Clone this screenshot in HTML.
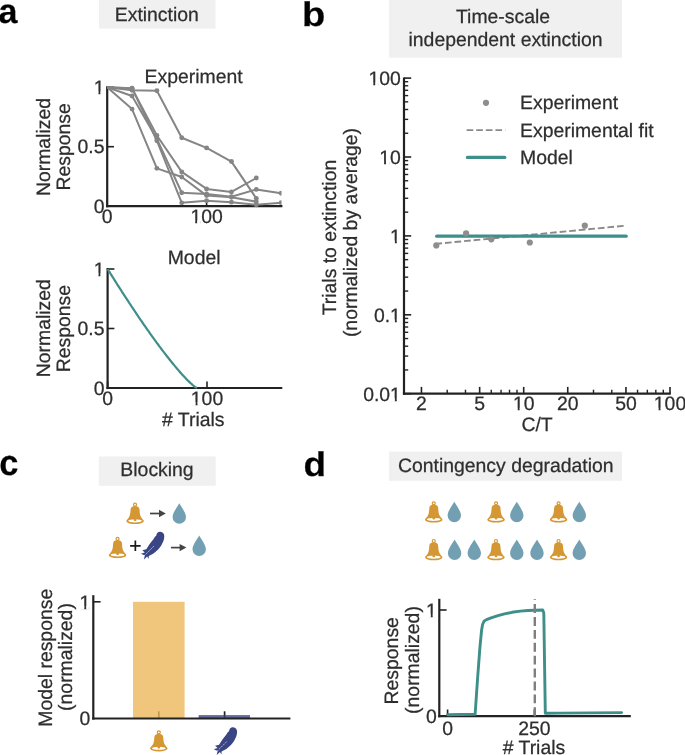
<!DOCTYPE html>
<html><head><meta charset="utf-8"><style>
html,body{margin:0;padding:0;background:#fff;}
body{width:685px;height:755px;overflow:hidden;}
svg{display:block;font-family:"Liberation Sans",sans-serif;will-change:transform;text-rendering:geometricPrecision;}
svg text{stroke:#2e2e2e;stroke-width:0.25px;}
</style></head><body>
<svg width="685" height="755" viewBox="0 0 685 755">
<text transform="translate(-1.40,22.76) scale(1.0343,1.0454)" x="0" y="0" font-size="33.0" font-weight="bold" fill="#000">a</text>
<text transform="translate(301.89,26.27) scale(1.1546,1.0357)" x="0" y="0" font-size="33.0" font-weight="bold" fill="#000">b</text>
<text transform="translate(-0.75,475.35) scale(1.0437,1.0841)" x="0" y="0" font-size="33.0" font-weight="bold" fill="#000">c</text>
<text transform="translate(303.39,476.47) scale(1.1185,1.0357)" x="0" y="0" font-size="33.0" font-weight="bold" fill="#000">d</text>
<rect x="99.00" y="-1.00" width="116.50" height="29.60" fill="#f0f0f0"/>
<text x="114.78" y="21.30" text-anchor="start" font-size="19.4" fill="#2e2e2e">Extinction</text>
<rect x="389.10" y="-1.00" width="232.90" height="58.70" fill="#f0f0f0"/>
<text x="455.98" y="22.60" text-anchor="start" font-size="19.4" fill="#2e2e2e">Time-scale</text>
<text x="408.51" y="45.60" text-anchor="start" font-size="19.4" fill="#2e2e2e">independent extinction</text>
<rect x="98.80" y="456.50" width="116.90" height="29.30" fill="#f0f0f0"/>
<text x="120.37" y="476.20" text-anchor="start" font-size="19.4" fill="#2e2e2e">Blocking</text>
<rect x="389.10" y="451.60" width="232.90" height="29.20" fill="#f0f0f0"/>
<text x="397.98" y="472.40" text-anchor="start" font-size="19.4" fill="#2e2e2e">Contingency degradation</text>
<line x1="107.20" y1="86.20" x2="107.20" y2="207.30" stroke="#222222" stroke-width="2.2"/>
<line x1="106.10" y1="206.20" x2="282.40" y2="206.20" stroke="#222222" stroke-width="2.2"/>
<line x1="107.20" y1="87.20" x2="114.00" y2="87.20" stroke="#222222" stroke-width="1.6"/>
<text x="104.50" y="93.97" text-anchor="end" font-size="19.4" fill="#2e2e2e">1</text>
<rect x="94.09" y="91.57" width="4.40" height="3.5" fill="#fff"/>
<rect x="100.40" y="91.57" width="3.58" height="3.5" fill="#fff"/>
<line x1="107.20" y1="146.70" x2="114.00" y2="146.70" stroke="#222222" stroke-width="1.6"/>
<text x="104.50" y="153.47" text-anchor="end" font-size="19.4" fill="#2e2e2e">0.5</text>
<line x1="107.20" y1="206.20" x2="114.00" y2="206.20" stroke="#222222" stroke-width="1.6"/>
<text x="104.50" y="212.97" text-anchor="end" font-size="19.4" fill="#2e2e2e">0</text>
<line x1="107.20" y1="206.20" x2="107.20" y2="199.70" stroke="#222222" stroke-width="1.6"/>
<text x="107.20" y="222.95" text-anchor="middle" font-size="19.4" fill="#2e2e2e">0</text>
<line x1="206.60" y1="206.20" x2="206.60" y2="199.70" stroke="#222222" stroke-width="1.6"/>
<text x="206.60" y="222.95" text-anchor="middle" font-size="19.4" fill="#2e2e2e">100</text>
<rect x="190.79" y="220.55" width="4.40" height="3.5" fill="#fff"/>
<rect x="197.11" y="220.55" width="3.58" height="3.5" fill="#fff"/>
<defs><clipPath id="ca"><rect x="103.2" y="80" width="178.3" height="140"/></clipPath></defs>
<g clip-path="url(#ca)">
<polyline points="107.20,87.20 132.05,90.29 156.90,90.77 181.75,137.77 206.60,147.89 231.45,161.57 256.30,198.35" fill="none" stroke="#858585" stroke-width="2" stroke-linejoin="round"/>
<circle cx="132.05" cy="90.29" r="2.45" fill="#858585"/>
<circle cx="156.90" cy="90.77" r="2.45" fill="#858585"/>
<circle cx="181.75" cy="137.77" r="2.45" fill="#858585"/>
<circle cx="206.60" cy="147.89" r="2.45" fill="#858585"/>
<circle cx="231.45" cy="161.57" r="2.45" fill="#858585"/>
<circle cx="256.30" cy="198.35" r="2.45" fill="#858585"/>
<polyline points="107.20,87.20 132.05,88.39 156.90,135.51 181.75,171.93 206.60,188.94 231.45,191.92 256.30,178.00" fill="none" stroke="#858585" stroke-width="2" stroke-linejoin="round"/>
<circle cx="132.05" cy="88.39" r="2.45" fill="#858585"/>
<circle cx="156.90" cy="135.51" r="2.45" fill="#858585"/>
<circle cx="181.75" cy="171.93" r="2.45" fill="#858585"/>
<circle cx="206.60" cy="188.94" r="2.45" fill="#858585"/>
<circle cx="231.45" cy="191.92" r="2.45" fill="#858585"/>
<circle cx="256.30" cy="178.00" r="2.45" fill="#858585"/>
<polyline points="107.20,87.20 132.05,96.01 156.90,138.96 181.75,192.75 206.60,193.94 231.45,196.68 256.30,189.42 281.15,193.23" fill="none" stroke="#858585" stroke-width="2" stroke-linejoin="round"/>
<circle cx="132.05" cy="96.01" r="2.45" fill="#858585"/>
<circle cx="156.90" cy="138.96" r="2.45" fill="#858585"/>
<circle cx="181.75" cy="192.75" r="2.45" fill="#858585"/>
<circle cx="206.60" cy="193.94" r="2.45" fill="#858585"/>
<circle cx="231.45" cy="196.68" r="2.45" fill="#858585"/>
<circle cx="256.30" cy="189.42" r="2.45" fill="#858585"/>
<circle cx="281.15" cy="193.23" r="2.45" fill="#858585"/>
<polyline points="107.20,87.20 132.05,109.10 156.90,168.36 181.75,177.04 206.60,195.61 231.45,197.27 256.30,201.68" fill="none" stroke="#858585" stroke-width="2" stroke-linejoin="round"/>
<circle cx="132.05" cy="109.10" r="2.45" fill="#858585"/>
<circle cx="156.90" cy="168.36" r="2.45" fill="#858585"/>
<circle cx="181.75" cy="177.04" r="2.45" fill="#858585"/>
<circle cx="206.60" cy="195.61" r="2.45" fill="#858585"/>
<circle cx="231.45" cy="197.27" r="2.45" fill="#858585"/>
<circle cx="256.30" cy="201.68" r="2.45" fill="#858585"/>
<polyline points="107.20,87.20 132.05,88.15 156.90,140.75 181.75,202.87 206.60,200.73 231.45,202.15 256.30,204.77 281.15,202.63" fill="none" stroke="#858585" stroke-width="2" stroke-linejoin="round"/>
<circle cx="132.05" cy="88.15" r="2.45" fill="#858585"/>
<circle cx="156.90" cy="140.75" r="2.45" fill="#858585"/>
<circle cx="181.75" cy="202.87" r="2.45" fill="#858585"/>
<circle cx="206.60" cy="200.73" r="2.45" fill="#858585"/>
<circle cx="231.45" cy="202.15" r="2.45" fill="#858585"/>
<circle cx="256.30" cy="204.77" r="2.45" fill="#858585"/>
<circle cx="281.15" cy="202.63" r="2.45" fill="#858585"/>
</g>
<text x="144.62" y="83.10" text-anchor="start" font-size="19.4" fill="#2e2e2e">Experiment</text>
<text transform="translate(50.30,146.85) rotate(-90)" x="-49.22" y="0" font-size="19.4" fill="#2e2e2e">Normalized</text>
<text transform="translate(70.40,146.50) rotate(-90)" x="-44.04" y="0" font-size="19.4" fill="#2e2e2e">Response</text>
<line x1="107.60" y1="268.00" x2="107.60" y2="389.10" stroke="#222222" stroke-width="2.2"/>
<line x1="106.50" y1="388.00" x2="282.30" y2="388.00" stroke="#222222" stroke-width="2.2"/>
<line x1="107.60" y1="269.00" x2="114.40" y2="269.00" stroke="#222222" stroke-width="1.6"/>
<text x="104.50" y="275.77" text-anchor="end" font-size="19.4" fill="#2e2e2e">1</text>
<rect x="94.09" y="273.37" width="4.40" height="3.5" fill="#fff"/>
<rect x="100.40" y="273.37" width="3.58" height="3.5" fill="#fff"/>
<line x1="107.60" y1="328.50" x2="114.40" y2="328.50" stroke="#222222" stroke-width="1.6"/>
<text x="104.50" y="335.27" text-anchor="end" font-size="19.4" fill="#2e2e2e">0.5</text>
<line x1="107.60" y1="388.00" x2="114.40" y2="388.00" stroke="#222222" stroke-width="1.6"/>
<text x="104.50" y="394.77" text-anchor="end" font-size="19.4" fill="#2e2e2e">0</text>
<line x1="107.60" y1="388.00" x2="107.60" y2="381.50" stroke="#222222" stroke-width="1.6"/>
<text x="107.60" y="404.75" text-anchor="middle" font-size="19.4" fill="#2e2e2e">0</text>
<line x1="207.00" y1="388.00" x2="207.00" y2="381.50" stroke="#222222" stroke-width="1.6"/>
<text x="207.00" y="404.75" text-anchor="middle" font-size="19.4" fill="#2e2e2e">100</text>
<rect x="191.19" y="402.35" width="4.40" height="3.5" fill="#fff"/>
<rect x="197.51" y="402.35" width="3.58" height="3.5" fill="#fff"/>
<polyline points="107.60,269.00 108.59,270.60 109.59,272.19 110.58,273.78 111.57,275.37 112.56,276.95 113.56,278.53 114.55,280.11 115.54,281.68 116.54,283.24 117.53,284.81 118.52,286.37 119.51,287.92 120.51,289.47 121.50,291.02 122.49,292.56 123.49,294.10 124.48,295.63 125.47,297.16 126.47,298.68 127.46,300.20 128.45,301.72 129.44,303.23 130.44,304.73 131.43,306.24 132.42,307.73 133.42,309.22 134.41,310.71 135.40,312.19 136.39,313.67 137.39,315.14 138.38,316.61 139.37,318.07 140.37,319.53 141.36,320.98 142.35,322.42 143.34,323.86 144.34,325.30 145.33,326.73 146.32,328.15 147.32,329.57 148.31,330.98 149.30,332.38 150.29,333.78 151.29,335.17 152.28,336.56 153.27,337.94 154.27,339.31 155.26,340.68 156.25,342.04 157.24,343.39 158.24,344.74 159.23,346.08 160.22,347.41 161.22,348.73 162.21,350.05 163.20,351.36 164.20,352.66 165.19,353.95 166.18,355.23 167.17,356.51 168.17,357.77 169.16,359.03 170.15,360.28 171.15,361.51 172.14,362.74 173.13,363.96 174.12,365.16 175.12,366.36 176.11,367.55 177.10,368.72 178.10,369.88 179.09,371.03 180.08,372.16 181.07,373.28 182.07,374.39 183.06,375.48 184.05,376.55 185.05,377.61 186.04,378.65 187.03,379.66 188.02,380.66 189.02,381.64 190.01,382.59 191.00,383.51 192.00,384.40 192.99,385.25 193.98,386.06 194.97,386.81 195.97,387.49 196.96,388.00" fill="none" stroke="#3e8e8a" stroke-width="2.2"/>
<text x="167.73" y="264.00" text-anchor="start" font-size="19.4" fill="#2e2e2e">Model</text>
<text x="162.01" y="425.60" text-anchor="start" font-size="19.4" fill="#2e2e2e"># Trials</text>
<text transform="translate(50.30,328.00) rotate(-90)" x="-49.22" y="0" font-size="19.4" fill="#2e2e2e">Normalized</text>
<text transform="translate(70.40,328.20) rotate(-90)" x="-44.04" y="0" font-size="19.4" fill="#2e2e2e">Response</text>
<line x1="404.00" y1="77.40" x2="404.00" y2="394.80" stroke="#222222" stroke-width="2.2"/>
<line x1="402.90" y1="393.70" x2="670.80" y2="393.70" stroke="#222222" stroke-width="2.2"/>
<line x1="404.00" y1="393.70" x2="411.20" y2="393.70" stroke="#222222" stroke-width="1.6"/>
<text x="400.90" y="400.77" text-anchor="end" font-size="19.4" fill="#2e2e2e">0.01</text>
<rect x="390.49" y="398.37" width="4.40" height="3.5" fill="#fff"/>
<rect x="396.80" y="398.37" width="3.58" height="3.5" fill="#fff"/>
<line x1="404.00" y1="369.95" x2="408.20" y2="369.95" stroke="#222222" stroke-width="1.4"/>
<line x1="404.00" y1="356.06" x2="408.20" y2="356.06" stroke="#222222" stroke-width="1.4"/>
<line x1="404.00" y1="346.20" x2="408.20" y2="346.20" stroke="#222222" stroke-width="1.4"/>
<line x1="404.00" y1="338.55" x2="408.20" y2="338.55" stroke="#222222" stroke-width="1.4"/>
<line x1="404.00" y1="332.30" x2="408.20" y2="332.30" stroke="#222222" stroke-width="1.4"/>
<line x1="404.00" y1="327.02" x2="408.20" y2="327.02" stroke="#222222" stroke-width="1.4"/>
<line x1="404.00" y1="322.45" x2="408.20" y2="322.45" stroke="#222222" stroke-width="1.4"/>
<line x1="404.00" y1="318.41" x2="408.20" y2="318.41" stroke="#222222" stroke-width="1.4"/>
<line x1="404.00" y1="314.80" x2="411.20" y2="314.80" stroke="#222222" stroke-width="1.6"/>
<text x="400.90" y="321.87" text-anchor="end" font-size="19.4" fill="#2e2e2e">0.1</text>
<rect x="390.49" y="319.47" width="4.40" height="3.5" fill="#fff"/>
<rect x="396.80" y="319.47" width="3.58" height="3.5" fill="#fff"/>
<line x1="404.00" y1="291.05" x2="408.20" y2="291.05" stroke="#222222" stroke-width="1.4"/>
<line x1="404.00" y1="277.16" x2="408.20" y2="277.16" stroke="#222222" stroke-width="1.4"/>
<line x1="404.00" y1="267.30" x2="408.20" y2="267.30" stroke="#222222" stroke-width="1.4"/>
<line x1="404.00" y1="259.65" x2="408.20" y2="259.65" stroke="#222222" stroke-width="1.4"/>
<line x1="404.00" y1="253.40" x2="408.20" y2="253.40" stroke="#222222" stroke-width="1.4"/>
<line x1="404.00" y1="248.12" x2="408.20" y2="248.12" stroke="#222222" stroke-width="1.4"/>
<line x1="404.00" y1="243.55" x2="408.20" y2="243.55" stroke="#222222" stroke-width="1.4"/>
<line x1="404.00" y1="239.51" x2="408.20" y2="239.51" stroke="#222222" stroke-width="1.4"/>
<line x1="404.00" y1="235.90" x2="411.20" y2="235.90" stroke="#222222" stroke-width="1.6"/>
<text x="400.90" y="242.97" text-anchor="end" font-size="19.4" fill="#2e2e2e">1</text>
<rect x="390.49" y="240.57" width="4.40" height="3.5" fill="#fff"/>
<rect x="396.80" y="240.57" width="3.58" height="3.5" fill="#fff"/>
<line x1="404.00" y1="212.15" x2="408.20" y2="212.15" stroke="#222222" stroke-width="1.4"/>
<line x1="404.00" y1="198.26" x2="408.20" y2="198.26" stroke="#222222" stroke-width="1.4"/>
<line x1="404.00" y1="188.40" x2="408.20" y2="188.40" stroke="#222222" stroke-width="1.4"/>
<line x1="404.00" y1="180.75" x2="408.20" y2="180.75" stroke="#222222" stroke-width="1.4"/>
<line x1="404.00" y1="174.50" x2="408.20" y2="174.50" stroke="#222222" stroke-width="1.4"/>
<line x1="404.00" y1="169.22" x2="408.20" y2="169.22" stroke="#222222" stroke-width="1.4"/>
<line x1="404.00" y1="164.65" x2="408.20" y2="164.65" stroke="#222222" stroke-width="1.4"/>
<line x1="404.00" y1="160.61" x2="408.20" y2="160.61" stroke="#222222" stroke-width="1.4"/>
<line x1="404.00" y1="157.00" x2="411.20" y2="157.00" stroke="#222222" stroke-width="1.6"/>
<text x="400.90" y="164.07" text-anchor="end" font-size="19.4" fill="#2e2e2e">10</text>
<rect x="379.70" y="161.67" width="4.40" height="3.5" fill="#fff"/>
<rect x="386.01" y="161.67" width="3.58" height="3.5" fill="#fff"/>
<line x1="404.00" y1="133.25" x2="408.20" y2="133.25" stroke="#222222" stroke-width="1.4"/>
<line x1="404.00" y1="119.36" x2="408.20" y2="119.36" stroke="#222222" stroke-width="1.4"/>
<line x1="404.00" y1="109.50" x2="408.20" y2="109.50" stroke="#222222" stroke-width="1.4"/>
<line x1="404.00" y1="101.85" x2="408.20" y2="101.85" stroke="#222222" stroke-width="1.4"/>
<line x1="404.00" y1="95.60" x2="408.20" y2="95.60" stroke="#222222" stroke-width="1.4"/>
<line x1="404.00" y1="90.32" x2="408.20" y2="90.32" stroke="#222222" stroke-width="1.4"/>
<line x1="404.00" y1="85.75" x2="408.20" y2="85.75" stroke="#222222" stroke-width="1.4"/>
<line x1="404.00" y1="81.71" x2="408.20" y2="81.71" stroke="#222222" stroke-width="1.4"/>
<line x1="404.00" y1="78.10" x2="411.20" y2="78.10" stroke="#222222" stroke-width="1.6"/>
<text x="400.90" y="85.17" text-anchor="end" font-size="19.4" fill="#2e2e2e">100</text>
<rect x="368.91" y="82.77" width="4.40" height="3.5" fill="#fff"/>
<rect x="375.22" y="82.77" width="3.58" height="3.5" fill="#fff"/>
<line x1="421.44" y1="393.70" x2="421.44" y2="386.90" stroke="#222222" stroke-width="1.6"/>
<text x="421.44" y="410.25" text-anchor="middle" font-size="19.4" fill="#2e2e2e">2</text>
<line x1="447.20" y1="393.70" x2="447.20" y2="389.70" stroke="#222222" stroke-width="1.4"/>
<line x1="465.48" y1="393.70" x2="465.48" y2="389.70" stroke="#222222" stroke-width="1.4"/>
<line x1="479.66" y1="393.70" x2="479.66" y2="386.90" stroke="#222222" stroke-width="1.6"/>
<text x="479.66" y="410.25" text-anchor="middle" font-size="19.4" fill="#2e2e2e">5</text>
<line x1="491.24" y1="393.70" x2="491.24" y2="389.70" stroke="#222222" stroke-width="1.4"/>
<line x1="501.04" y1="393.70" x2="501.04" y2="389.70" stroke="#222222" stroke-width="1.4"/>
<line x1="509.52" y1="393.70" x2="509.52" y2="389.70" stroke="#222222" stroke-width="1.4"/>
<line x1="517.01" y1="393.70" x2="517.01" y2="389.70" stroke="#222222" stroke-width="1.4"/>
<line x1="523.70" y1="393.70" x2="523.70" y2="386.90" stroke="#222222" stroke-width="1.6"/>
<text x="523.70" y="410.25" text-anchor="middle" font-size="19.4" fill="#2e2e2e">10</text>
<rect x="513.29" y="407.85" width="4.40" height="3.5" fill="#fff"/>
<rect x="519.60" y="407.85" width="3.58" height="3.5" fill="#fff"/>
<line x1="567.74" y1="393.70" x2="567.74" y2="386.90" stroke="#222222" stroke-width="1.6"/>
<text x="567.74" y="410.25" text-anchor="middle" font-size="19.4" fill="#2e2e2e">20</text>
<line x1="593.50" y1="393.70" x2="593.50" y2="389.70" stroke="#222222" stroke-width="1.4"/>
<line x1="611.78" y1="393.70" x2="611.78" y2="389.70" stroke="#222222" stroke-width="1.4"/>
<line x1="625.96" y1="393.70" x2="625.96" y2="386.90" stroke="#222222" stroke-width="1.6"/>
<text x="625.96" y="410.25" text-anchor="middle" font-size="19.4" fill="#2e2e2e">50</text>
<line x1="637.54" y1="393.70" x2="637.54" y2="389.70" stroke="#222222" stroke-width="1.4"/>
<line x1="647.34" y1="393.70" x2="647.34" y2="389.70" stroke="#222222" stroke-width="1.4"/>
<line x1="655.82" y1="393.70" x2="655.82" y2="389.70" stroke="#222222" stroke-width="1.4"/>
<line x1="663.31" y1="393.70" x2="663.31" y2="389.70" stroke="#222222" stroke-width="1.4"/>
<line x1="670.00" y1="393.70" x2="670.00" y2="386.90" stroke="#222222" stroke-width="1.6"/>
<text x="670.00" y="410.25" text-anchor="middle" font-size="19.4" fill="#2e2e2e">100</text>
<rect x="654.19" y="407.85" width="4.40" height="3.5" fill="#fff"/>
<rect x="660.51" y="407.85" width="3.58" height="3.5" fill="#fff"/>
<text x="521.40" y="431.00" text-anchor="start" font-size="19.4" fill="#2e2e2e">C/T</text>
<text transform="translate(335.80,314.90) rotate(-90)" x="-0.44" y="0" font-size="19.4" fill="#2e2e2e">Trials to extinction</text>
<text transform="translate(357.00,335.90) rotate(-90)" x="-1.20" y="0" font-size="19.4" fill="#2e2e2e">(normalized by average)</text>
<line x1="435.40" y1="243.90" x2="626.40" y2="225.60" stroke="#8a8a8a" stroke-width="1.9" stroke-dasharray="6.7,2.9"/>
<line x1="436.70" y1="236.20" x2="626.20" y2="236.20" stroke="#3e8e8a" stroke-width="3.2" stroke-linecap="round"/>
<circle cx="436.3" cy="245.4" r="3.1" fill="#8e8e8e"/>
<circle cx="466.1" cy="233.3" r="3.1" fill="#8e8e8e"/>
<circle cx="491.3" cy="239.3" r="3.1" fill="#8e8e8e"/>
<circle cx="529.8" cy="242.5" r="3.1" fill="#8e8e8e"/>
<circle cx="584.8" cy="225.7" r="3.1" fill="#8e8e8e"/>
<circle cx="486" cy="102.8" r="3.1" fill="#8e8e8e"/>
<text x="520.01" y="109.40" text-anchor="start" font-size="19.4" fill="#2e2e2e">Experiment</text>
<line x1="466.60" y1="130.10" x2="505.30" y2="130.10" stroke="#8a8a8a" stroke-width="1.9" stroke-dasharray="6.7,2.9"/>
<text x="520.01" y="137.00" text-anchor="start" font-size="19.4" fill="#2e2e2e">Experimental fit</text>
<line x1="467.40" y1="157.40" x2="504.80" y2="157.40" stroke="#3e8e8a" stroke-width="3.2" stroke-linecap="round"/>
<text x="520.01" y="163.70" text-anchor="start" font-size="19.4" fill="#2e2e2e">Model</text>
<g transform="translate(126.30,502.60) scale(1.000,1.000)"><circle cx="8.75" cy="2.1" r="1.5" fill="none" stroke="#d59733" stroke-width="1.2"/><path d="M4.3,7 C4.3,4.6 6.2,3.4 8.75,3.4 C11.3,3.4 13.2,4.6 13.2,7 C13.4,10.2 13.6,13 15,15 C15.8,16.2 16.8,17 17.2,18.6 L0.3,18.6 C0.7,17 1.7,16.2 2.5,15 C3.9,13 4.1,10.2 4.3,7 Z" fill="#d59733"/><ellipse cx="8.75" cy="18.45" rx="8.75" ry="2.95" fill="#d59733"/><ellipse cx="8.75" cy="18.25" rx="6.9" ry="1.55" fill="#fff"/><path d="M7.45,15.5 L10.05,15.5 L10.05,17.6 C10.05,18.6 7.45,18.6 7.45,17.6 Z" fill="#d59733"/></g>
<line x1="150.0" y1="513.5" x2="160.3" y2="513.5" stroke="#444" stroke-width="1.7"/><path d="M159.0,509.8 L165.8,513.5 L159.0,517.2 Z" fill="#444"/>
<g transform="translate(172.60,503.30) scale(1.000,1.000)"><path d="M6.7,0 C5.2,3 0,9.3 0,13.7 A6.7,6.7 0 0 0 13.4,13.7 C13.4,9.3 8.2,3 6.7,0 Z" fill="#72a0b2"/></g>
<g transform="translate(108.80,536.70) scale(1.000,1.000)"><circle cx="8.75" cy="2.1" r="1.5" fill="none" stroke="#d59733" stroke-width="1.2"/><path d="M4.3,7 C4.3,4.6 6.2,3.4 8.75,3.4 C11.3,3.4 13.2,4.6 13.2,7 C13.4,10.2 13.6,13 15,15 C15.8,16.2 16.8,17 17.2,18.6 L0.3,18.6 C0.7,17 1.7,16.2 2.5,15 C3.9,13 4.1,10.2 4.3,7 Z" fill="#d59733"/><ellipse cx="8.75" cy="18.45" rx="8.75" ry="2.95" fill="#d59733"/><ellipse cx="8.75" cy="18.25" rx="6.9" ry="1.55" fill="#fff"/><path d="M7.45,15.5 L10.05,15.5 L10.05,17.6 C10.05,18.6 7.45,18.6 7.45,17.6 Z" fill="#d59733"/></g>
<path d="M130.1,545.8 H140.6 M135.35,540.5 V551.1" stroke="#1a1a1a" stroke-width="1.7"/>
<g transform="translate(136.00,528.00) scale(1.000)"><path d="M23.6,3.8 C25.5,3.6 27.3,4.6 28,6.5 C28.6,8.5 28.2,11 27.2,13.5 C26,16.5 24.5,18.8 23.2,20.3 C21.5,22.3 19.5,24.2 17.5,25.5 C16,26.5 14.3,27.3 12.8,27.9 L12.6,31.1 L11.2,28.4 L7.9,31.5 L8.8,27.5 L4.9,25.7 L8.8,24.5 L6.3,22.3 L10.3,21.2 C11,20 11.7,18.9 11.7,18.9 C13,17 14.5,14.8 16.4,12.6 C17.5,11.2 18.5,9.5 19.2,8.5 L20.2,7.8 C20.5,6.5 21,5 21.8,4.5 C22.3,4.1 23,3.8 23.6,3.8 Z" fill="#3a4684"/><path d="M7.9,28.1 L18.5,17.5" stroke="#fff" stroke-width="0.65" stroke-dasharray="2.2,0.8" opacity="0.9"/></g>
<line x1="171.0" y1="547.6" x2="180.9" y2="547.6" stroke="#444" stroke-width="1.7"/><path d="M179.6,543.9 L186.4,547.6 L179.6,551.3000000000001 Z" fill="#444"/>
<g transform="translate(192.50,535.60) scale(1.000,1.000)"><path d="M6.7,0 C5.2,3 0,9.3 0,13.7 A6.7,6.7 0 0 0 13.4,13.7 C13.4,9.3 8.2,3 6.7,0 Z" fill="#72a0b2"/></g>
<g transform="translate(425.00,501.20) scale(1.000,1.000)"><circle cx="8.75" cy="2.1" r="1.5" fill="none" stroke="#d59733" stroke-width="1.2"/><path d="M4.3,7 C4.3,4.6 6.2,3.4 8.75,3.4 C11.3,3.4 13.2,4.6 13.2,7 C13.4,10.2 13.6,13 15,15 C15.8,16.2 16.8,17 17.2,18.6 L0.3,18.6 C0.7,17 1.7,16.2 2.5,15 C3.9,13 4.1,10.2 4.3,7 Z" fill="#d59733"/><ellipse cx="8.75" cy="18.45" rx="8.75" ry="2.95" fill="#d59733"/><ellipse cx="8.75" cy="18.25" rx="6.9" ry="1.55" fill="#fff"/><path d="M7.45,15.5 L10.05,15.5 L10.05,17.6 C10.05,18.6 7.45,18.6 7.45,17.6 Z" fill="#d59733"/></g>
<g transform="translate(447.60,501.80) scale(1.000,1.000)"><path d="M6.7,0 C5.2,3 0,9.3 0,13.7 A6.7,6.7 0 0 0 13.4,13.7 C13.4,9.3 8.2,3 6.7,0 Z" fill="#72a0b2"/></g>
<g transform="translate(487.30,501.20) scale(1.000,1.000)"><circle cx="8.75" cy="2.1" r="1.5" fill="none" stroke="#d59733" stroke-width="1.2"/><path d="M4.3,7 C4.3,4.6 6.2,3.4 8.75,3.4 C11.3,3.4 13.2,4.6 13.2,7 C13.4,10.2 13.6,13 15,15 C15.8,16.2 16.8,17 17.2,18.6 L0.3,18.6 C0.7,17 1.7,16.2 2.5,15 C3.9,13 4.1,10.2 4.3,7 Z" fill="#d59733"/><ellipse cx="8.75" cy="18.45" rx="8.75" ry="2.95" fill="#d59733"/><ellipse cx="8.75" cy="18.25" rx="6.9" ry="1.55" fill="#fff"/><path d="M7.45,15.5 L10.05,15.5 L10.05,17.6 C10.05,18.6 7.45,18.6 7.45,17.6 Z" fill="#d59733"/></g>
<g transform="translate(510.10,501.80) scale(1.000,1.000)"><path d="M6.7,0 C5.2,3 0,9.3 0,13.7 A6.7,6.7 0 0 0 13.4,13.7 C13.4,9.3 8.2,3 6.7,0 Z" fill="#72a0b2"/></g>
<g transform="translate(549.80,501.20) scale(1.000,1.000)"><circle cx="8.75" cy="2.1" r="1.5" fill="none" stroke="#d59733" stroke-width="1.2"/><path d="M4.3,7 C4.3,4.6 6.2,3.4 8.75,3.4 C11.3,3.4 13.2,4.6 13.2,7 C13.4,10.2 13.6,13 15,15 C15.8,16.2 16.8,17 17.2,18.6 L0.3,18.6 C0.7,17 1.7,16.2 2.5,15 C3.9,13 4.1,10.2 4.3,7 Z" fill="#d59733"/><ellipse cx="8.75" cy="18.45" rx="8.75" ry="2.95" fill="#d59733"/><ellipse cx="8.75" cy="18.25" rx="6.9" ry="1.55" fill="#fff"/><path d="M7.45,15.5 L10.05,15.5 L10.05,17.6 C10.05,18.6 7.45,18.6 7.45,17.6 Z" fill="#d59733"/></g>
<g transform="translate(572.60,501.80) scale(1.000,1.000)"><path d="M6.7,0 C5.2,3 0,9.3 0,13.7 A6.7,6.7 0 0 0 13.4,13.7 C13.4,9.3 8.2,3 6.7,0 Z" fill="#72a0b2"/></g>
<g transform="translate(425.00,538.90) scale(1.000,1.000)"><circle cx="8.75" cy="2.1" r="1.5" fill="none" stroke="#d59733" stroke-width="1.2"/><path d="M4.3,7 C4.3,4.6 6.2,3.4 8.75,3.4 C11.3,3.4 13.2,4.6 13.2,7 C13.4,10.2 13.6,13 15,15 C15.8,16.2 16.8,17 17.2,18.6 L0.3,18.6 C0.7,17 1.7,16.2 2.5,15 C3.9,13 4.1,10.2 4.3,7 Z" fill="#d59733"/><ellipse cx="8.75" cy="18.45" rx="8.75" ry="2.95" fill="#d59733"/><ellipse cx="8.75" cy="18.25" rx="6.9" ry="1.55" fill="#fff"/><path d="M7.45,15.5 L10.05,15.5 L10.05,17.6 C10.05,18.6 7.45,18.6 7.45,17.6 Z" fill="#d59733"/></g>
<g transform="translate(447.90,539.50) scale(1.000,1.000)"><path d="M6.7,0 C5.2,3 0,9.3 0,13.7 A6.7,6.7 0 0 0 13.4,13.7 C13.4,9.3 8.2,3 6.7,0 Z" fill="#72a0b2"/></g>
<g transform="translate(467.60,539.50) scale(1.000,1.000)"><path d="M6.7,0 C5.2,3 0,9.3 0,13.7 A6.7,6.7 0 0 0 13.4,13.7 C13.4,9.3 8.2,3 6.7,0 Z" fill="#72a0b2"/></g>
<g transform="translate(487.20,538.90) scale(1.000,1.000)"><circle cx="8.75" cy="2.1" r="1.5" fill="none" stroke="#d59733" stroke-width="1.2"/><path d="M4.3,7 C4.3,4.6 6.2,3.4 8.75,3.4 C11.3,3.4 13.2,4.6 13.2,7 C13.4,10.2 13.6,13 15,15 C15.8,16.2 16.8,17 17.2,18.6 L0.3,18.6 C0.7,17 1.7,16.2 2.5,15 C3.9,13 4.1,10.2 4.3,7 Z" fill="#d59733"/><ellipse cx="8.75" cy="18.45" rx="8.75" ry="2.95" fill="#d59733"/><ellipse cx="8.75" cy="18.25" rx="6.9" ry="1.55" fill="#fff"/><path d="M7.45,15.5 L10.05,15.5 L10.05,17.6 C10.05,18.6 7.45,18.6 7.45,17.6 Z" fill="#d59733"/></g>
<g transform="translate(510.10,539.50) scale(1.000,1.000)"><path d="M6.7,0 C5.2,3 0,9.3 0,13.7 A6.7,6.7 0 0 0 13.4,13.7 C13.4,9.3 8.2,3 6.7,0 Z" fill="#72a0b2"/></g>
<g transform="translate(530.30,539.50) scale(1.000,1.000)"><path d="M6.7,0 C5.2,3 0,9.3 0,13.7 A6.7,6.7 0 0 0 13.4,13.7 C13.4,9.3 8.2,3 6.7,0 Z" fill="#72a0b2"/></g>
<g transform="translate(549.80,538.90) scale(1.000,1.000)"><circle cx="8.75" cy="2.1" r="1.5" fill="none" stroke="#d59733" stroke-width="1.2"/><path d="M4.3,7 C4.3,4.6 6.2,3.4 8.75,3.4 C11.3,3.4 13.2,4.6 13.2,7 C13.4,10.2 13.6,13 15,15 C15.8,16.2 16.8,17 17.2,18.6 L0.3,18.6 C0.7,17 1.7,16.2 2.5,15 C3.9,13 4.1,10.2 4.3,7 Z" fill="#d59733"/><ellipse cx="8.75" cy="18.45" rx="8.75" ry="2.95" fill="#d59733"/><ellipse cx="8.75" cy="18.25" rx="6.9" ry="1.55" fill="#fff"/><path d="M7.45,15.5 L10.05,15.5 L10.05,17.6 C10.05,18.6 7.45,18.6 7.45,17.6 Z" fill="#d59733"/></g>
<g transform="translate(572.60,539.50) scale(1.000,1.000)"><path d="M6.7,0 C5.2,3 0,9.3 0,13.7 A6.7,6.7 0 0 0 13.4,13.7 C13.4,9.3 8.2,3 6.7,0 Z" fill="#72a0b2"/></g>
<line x1="158.80" y1="718.50" x2="158.80" y2="711.30" stroke="#222222" stroke-width="1.7"/>
<line x1="224.60" y1="718.50" x2="224.60" y2="711.30" stroke="#222222" stroke-width="1.7"/>
<rect x="133.0" y="601.80" width="51.6" height="116.70" fill="rgb(236,184,92)" fill-opacity="0.8"/>
<rect x="198.6" y="715.10" width="51.4" height="3.4" fill="#3a4684" fill-opacity="0.8"/>
<line x1="93.30" y1="595.20" x2="93.30" y2="719.60" stroke="#222222" stroke-width="2.2"/>
<line x1="92.20" y1="718.50" x2="290.40" y2="718.50" stroke="#222222" stroke-width="2.2"/>
<line x1="93.30" y1="601.80" x2="100.60" y2="601.80" stroke="#222222" stroke-width="1.6"/>
<text x="90.30" y="608.57" text-anchor="end" font-size="19.4" fill="#2e2e2e">1</text>
<rect x="79.89" y="606.17" width="4.40" height="3.5" fill="#fff"/>
<rect x="86.20" y="606.17" width="3.58" height="3.5" fill="#fff"/>
<text x="90.30" y="725.27" text-anchor="end" font-size="19.4" fill="#2e2e2e">0</text>
<text transform="translate(51.70,657.40) rotate(-90)" x="-69.38" y="0" font-size="19.4" fill="#2e2e2e">Model response</text>
<text transform="translate(72.30,657.00) rotate(-90)" x="-53.90" y="0" font-size="19.4" fill="#2e2e2e">(normalized)</text>
<g transform="translate(150.00,730.30) scale(1.006,0.986)"><circle cx="8.75" cy="2.1" r="1.5" fill="none" stroke="#d59733" stroke-width="1.2"/><path d="M4.3,7 C4.3,4.6 6.2,3.4 8.75,3.4 C11.3,3.4 13.2,4.6 13.2,7 C13.4,10.2 13.6,13 15,15 C15.8,16.2 16.8,17 17.2,18.6 L0.3,18.6 C0.7,17 1.7,16.2 2.5,15 C3.9,13 4.1,10.2 4.3,7 Z" fill="#d59733"/><ellipse cx="8.75" cy="18.45" rx="8.75" ry="2.95" fill="#d59733"/><ellipse cx="8.75" cy="18.25" rx="6.9" ry="1.55" fill="#fff"/><path d="M7.45,15.5 L10.05,15.5 L10.05,17.6 C10.05,18.6 7.45,18.6 7.45,17.6 Z" fill="#d59733"/></g>
<g transform="translate(208.80,723.50) scale(1.000)"><path d="M23.6,3.8 C25.5,3.6 27.3,4.6 28,6.5 C28.6,8.5 28.2,11 27.2,13.5 C26,16.5 24.5,18.8 23.2,20.3 C21.5,22.3 19.5,24.2 17.5,25.5 C16,26.5 14.3,27.3 12.8,27.9 L12.6,31.1 L11.2,28.4 L7.9,31.5 L8.8,27.5 L4.9,25.7 L8.8,24.5 L6.3,22.3 L10.3,21.2 C11,20 11.7,18.9 11.7,18.9 C13,17 14.5,14.8 16.4,12.6 C17.5,11.2 18.5,9.5 19.2,8.5 L20.2,7.8 C20.5,6.5 21,5 21.8,4.5 C22.3,4.1 23,3.8 23.6,3.8 Z" fill="#3a4684"/><path d="M7.9,28.1 L18.5,17.5" stroke="#fff" stroke-width="0.65" stroke-dasharray="2.2,0.8" opacity="0.9"/></g>
<line x1="439.30" y1="598.80" x2="439.30" y2="717.30" stroke="#222222" stroke-width="2.2"/>
<line x1="438.20" y1="716.20" x2="630.80" y2="716.20" stroke="#222222" stroke-width="2.2"/>
<line x1="439.30" y1="610.00" x2="446.60" y2="610.00" stroke="#222222" stroke-width="1.6"/>
<line x1="447.60" y1="716.20" x2="447.60" y2="709.50" stroke="#222222" stroke-width="1.6"/>
<line x1="534.40" y1="716.20" x2="534.40" y2="709.50" stroke="#222222" stroke-width="1.6"/>
<text x="436.80" y="616.77" text-anchor="end" font-size="19.4" fill="#2e2e2e">1</text>
<rect x="426.39" y="614.37" width="4.40" height="3.5" fill="#fff"/>
<rect x="432.70" y="614.37" width="3.58" height="3.5" fill="#fff"/>
<text x="436.80" y="722.97" text-anchor="end" font-size="19.4" fill="#2e2e2e">0</text>
<text x="447.60" y="734.85" text-anchor="middle" font-size="19.4" fill="#2e2e2e">0</text>
<text x="534.40" y="734.85" text-anchor="middle" font-size="19.4" fill="#2e2e2e">250</text>
<text x="502.71" y="754.40" text-anchor="start" font-size="19.4" fill="#2e2e2e"># Trials</text>
<text transform="translate(397.80,660.40) rotate(-90)" x="-44.04" y="0" font-size="19.4" fill="#2e2e2e">Response</text>
<text transform="translate(418.80,660.00) rotate(-90)" x="-53.90" y="0" font-size="19.4" fill="#2e2e2e">(normalized)</text>
<polyline points="447.60,714.80 475.10,714.30 476.30,697.00 477.50,679.50 479.90,647.70 481.60,630.00 482.60,624.50 484.00,621.20 486.50,619.60 491.80,617.60 498.00,615.60 504.50,613.90 512.00,612.30 520.40,611.10 528.00,610.50 534.70,610.20 542.70,610.00 543.80,613.00 545.30,713.20 560.00,713.10 621.60,712.60" fill="none" stroke="#3e8e8a" stroke-width="2.9" stroke-linejoin="round" stroke-linecap="round"/>
<line x1="534.80" y1="716.20" x2="534.80" y2="599.20" stroke="#7f7f7f" stroke-width="2.4" stroke-dasharray="8.9,4.0"/>
</svg>
</body></html>
